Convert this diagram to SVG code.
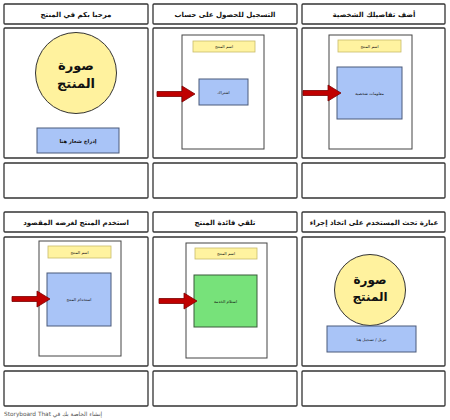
<svg xmlns="http://www.w3.org/2000/svg" width="450" height="420" viewBox="0 0 450 420">
<style>
.box{fill:#fff;stroke:#333;stroke-width:1.3}
.page{fill:#fff;stroke:#444;stroke-width:1}
.lbl{fill:#fff3a0;stroke:#c9bb6a;stroke-width:0.8}
.blue{fill:#a9c4f7;stroke:#4b5a7a;stroke-width:1}
.green{fill:#77e27a;stroke:#3a5a3a;stroke-width:1}
.circ{fill:#fff29e;stroke:#333;stroke-width:1}
.arrow{fill:#c00000;stroke:#7a0000;stroke-width:0.8}
text{font-family:"DejaVu Sans","Noto Sans",sans-serif;text-anchor:middle;fill:#111}
.title{font-size:7px;font-weight:bold}
.big{font-size:13px;font-weight:bold}
.big2{font-size:12px;font-weight:bold}
.small{font-size:5.2px;font-weight:bold}
.tiny{font-size:4px}
.foot{font-size:5.8px;fill:#555;text-anchor:start}
</style>
<defs>
<path id="arr" class="arrow" d="M-38,-2.5 H-13 V-8 L0,0 L-13,8 V2.5 H-38 Z"/>
</defs>
<g id="panel1">
<rect class="box" x="4" y="4" width="144" height="20" rx="1"/>
<text class="title" x="76" y="16.5">مرحبا بكم في المنتج</text>
<rect class="box" x="4" y="28" width="144" height="130" rx="1"/>
<circle class="circ" cx="76" cy="73" r="40.5"/>
<text class="big" x="76" y="70">صورة</text>
<text class="big" x="76" y="88">المنتج</text>
<rect class="blue" x="37" y="128" width="82" height="25"/>
<text class="small" x="78" y="142.5">إدراج شعار هنا</text>
<rect class="box" x="4" y="163" width="144" height="35" rx="1"/>
</g>
<g id="panel2">
<rect class="box" x="153" y="4" width="144" height="20" rx="1"/>
<text class="title" x="225" y="16.5">التسجيل للحصول على حساب</text>
<rect class="box" x="153" y="28" width="144" height="130" rx="1"/>
<rect class="page" x="182" y="35" width="82" height="114"/>
<rect class="lbl" x="193" y="41" width="62" height="11"/>
<text class="tiny" x="224" y="48">اسم المنتج</text>
<rect class="blue" x="199" y="79" width="49" height="26"/>
<text class="tiny" x="223.5" y="93.5">اشتراك</text>
<rect class="box" x="153" y="163" width="144" height="35" rx="1"/>
</g>
<g id="panel3">
<rect class="box" x="302" y="4" width="143" height="20" rx="1"/>
<text class="title" x="374" y="16.5">أضف تفاصيلك الشخصية</text>
<rect class="box" x="302" y="28" width="143" height="130" rx="1"/>
<rect class="page" x="329" y="35" width="83" height="114"/>
<rect class="lbl" x="338" y="40" width="63" height="12"/>
<text class="tiny" x="369.5" y="47.5">اسم المنتج</text>
<rect class="blue" x="337" y="67" width="65" height="52"/>
<text class="tiny" x="369.5" y="95">معلومات شخصية</text>
<rect class="box" x="302" y="163" width="143" height="35" rx="1"/>
</g>
<g id="panel4">
<rect class="box" x="4" y="212" width="144" height="20" rx="1"/>
<text class="title" x="76" y="224.5">استخدم المنتج لغرضه المقصود</text>
<rect class="box" x="4" y="237" width="144" height="129" rx="1"/>
<rect class="page" x="39" y="241" width="82" height="115"/>
<rect class="lbl" x="48" y="246" width="63" height="12"/>
<text class="tiny" x="79.5" y="253.5">اسم المنتج</text>
<rect class="blue" x="47" y="273" width="64" height="53"/>
<text class="tiny" x="79" y="300.5">استخدام المنتج</text>
<rect class="box" x="4" y="371" width="144" height="35" rx="1"/>
</g>
<g id="panel5">
<rect class="box" x="153" y="212" width="144" height="20" rx="1"/>
<text class="title" x="225" y="224.5">تلقي فائدة المنتج</text>
<rect class="box" x="153" y="237" width="144" height="129" rx="1"/>
<rect class="page" x="186" y="243" width="81" height="115"/>
<rect class="lbl" x="195" y="248" width="62" height="11"/>
<text class="tiny" x="226" y="255">اسم المنتج</text>
<rect class="green" x="194" y="275" width="63" height="52"/>
<text class="tiny" x="225.5" y="302.5">استلام الخدمة</text>
<rect class="box" x="153" y="371" width="144" height="35" rx="1"/>
</g>
<g id="panel6">
<rect class="box" x="302" y="212" width="143" height="20" rx="1"/>
<text class="title" x="374" y="224.5">عبارة تحث المستخدم على اتخاذ إجراء</text>
<rect class="box" x="302" y="237" width="143" height="129" rx="1"/>
<circle class="circ" cx="370" cy="290" r="35.5"/>
<text class="big2" x="370" y="284">صورة</text>
<text class="big2" x="370" y="301">المنتج</text>
<rect class="blue" x="327" y="326" width="89" height="26"/>
<text class="tiny" x="371.5" y="340.5">تنزيل / تسجيل هنا</text>
<rect class="box" x="302" y="371" width="143" height="35" rx="1"/>
</g>
<g id="connectors">
<use href="#arr" transform="translate(195,94)"/>
<use href="#arr" transform="translate(341,93)"/>
<use href="#arr" transform="translate(50,299)"/>
<use href="#arr" transform="translate(197,301)"/>
</g>
<text class="foot" x="4" y="416">Storyboard That إنشاء الخاصة بك في</text>
</svg>
